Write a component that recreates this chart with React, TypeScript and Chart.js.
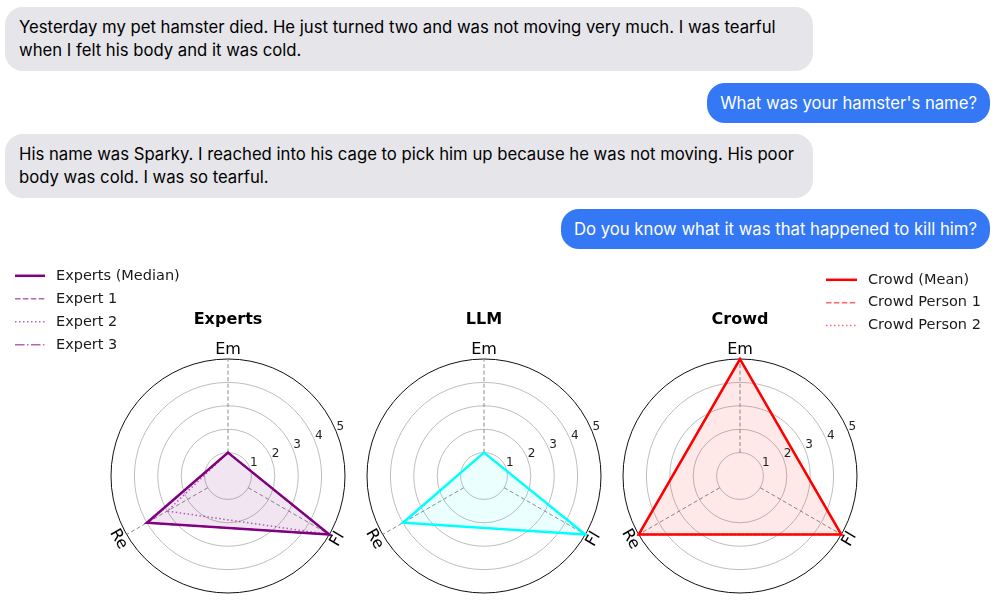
import React, { useEffect, useRef } from 'react';
import { Chart, registerables } from 'chart.js';

Chart.register(...registerables);

// ---------- data ----------
const AXES = ['Em', 'Fl', 'Re'];
const TICK_VALUES = [1, 2, 3, 4, 5];
const SCALE_MIN = 0;
const SCALE_MAX = 5;

const EXPERTS_MEDIAN = [1, 5, 4];
const EXPERT_1 = [1, 5, 4];
const EXPERT_2 = [1, 5, 3];
const EXPERT_3 = [1, 5, 4];
const LLM_SCORES = [1, 5, 4];
const CROWD_MEAN = [5, 5, 5];
const CROWD_PERSON_1 = [5, 5, 5];
const CROWD_PERSON_2 = [5, 5, 5];

const PANEL_TITLES = ['Experts', 'LLM', 'Crowd'];

const MSG_1 = [
  'Yesterday my pet hamster died. He just turned two and was not moving very much. I was tearful',
  'when I felt his body and it was cold.',
];
const MSG_2 = ["What was your hamster's name?"];
const MSG_3 = [
  'His name was Sparky. I reached into his cage to pick him up because he was not moving. His poor',
  'body was cold. I was so tearful.',
];
const MSG_4 = ['Do you know what it was that happened to kill him?'];

// ---------- styles ----------
const FONT = 'DejaVu Sans';
const PURPLE = '#800080';
const PURPLE_LIGHT = 'rgba(128,0,128,0.6)';
const CYAN = '#00ffff';
const RED = '#ff0000';
const RED_LIGHT = 'rgba(255,0,0,0.6)';
const DASHED = [5.5, 2.4];
const DOTTED = [1.5, 2.5];
const DASHDOT = [9.6, 2.4, 1.5, 2.4];

const polarDecor = {
  id: 'polarDecor',
  beforeDatasetsDraw(chart: any, _args: any, opts: any) {
    const s = chart.scales.r;
    const ctx = chart.ctx;
    ctx.save();
    ctx.strokeStyle = '#8a8a8a';
    ctx.lineWidth = 1;
    ctx.setLineDash([4, 2.5]);
    chart.data.labels.forEach((_: any, i: number) => {
      const a = s.getPointPosition(i, s.getDistanceFromCenterForValue(opts.innerValue));
      const b = s.getPointPosition(i, s.getDistanceFromCenterForValue(s.max));
      ctx.beginPath();
      ctx.moveTo(a.x, a.y);
      ctx.lineTo(b.x, b.y);
      ctx.stroke();
    });
    ctx.restore();
  },
  afterDatasetsDraw(chart: any, _args: any, opts: any) {
    const s = chart.scales.r;
    const ctx = chart.ctx;
    ctx.save();
    // radial tick labels at 22.5 deg
    const ang = (opts.tickAngle * Math.PI) / 180;
    ctx.font = `12px "${FONT}"`;
    ctx.fillStyle = '#222';
    ctx.textAlign = 'left';
    ctx.textBaseline = 'alphabetic';
    TICK_VALUES.forEach((v) => {
      const d = s.getDistanceFromCenterForValue(v);
      const x = s.xCenter + d * Math.cos(ang);
      const y = s.yCenter - d * Math.sin(ang);
      ctx.fillText(String(v), x + 0.5, y - 1);
    });
    // axis (point) labels, rotated tangentially
    ctx.font = `16px "${FONT}"`;
    ctx.fillStyle = '#000';
    ctx.textAlign = 'center';
    ctx.textBaseline = 'middle';
    chart.data.labels.forEach((lab: string, i: number) => {
      const p = s.getPointPosition(i, s.drawingArea + opts.labelOffset);
      let rot = p.angle + Math.PI / 2;
      while (rot > Math.PI / 2 + 1e-6) rot -= Math.PI;
      while (rot <= -Math.PI / 2 + 1e-6) rot += Math.PI;
      ctx.save();
      ctx.translate(p.x, p.y);
      ctx.rotate(rot);
      ctx.fillText(lab, 0, 0);
      ctx.restore();
    });
    // legend
    const lg = opts.legend;
    if (lg) {
      chart.data.datasets.forEach((ds: any, i: number) => {
        const yy = lg.y + i * lg.gap;
        ctx.save();
        ctx.strokeStyle = ds.borderColor;
        ctx.lineWidth = ds.borderWidth;
        ctx.setLineDash(ds.borderDash || []);
        ctx.beginPath();
        ctx.moveTo(lg.x, yy);
        ctx.lineTo(lg.x + lg.len, yy);
        ctx.stroke();
        ctx.restore();
        ctx.font = `14.5px "${FONT}"`;
        ctx.fillStyle = '#1a1a1a';
        ctx.textAlign = 'left';
        ctx.textBaseline = 'middle';
        ctx.fillText(ds.label, lg.x + lg.len + lg.textGap, yy);
      });
    }
    ctx.restore();
  },
};

function line(label: string, data: number[], color: string, width: number, dash: number[], fill?: string) {
  return {
    label,
    data,
    borderColor: color,
    borderWidth: width,
    borderDash: dash,
    backgroundColor: fill || 'transparent',
    fill: !!fill,
    pointRadius: 0,
    pointHoverRadius: 0,
    tension: 0,
  };
}

function makeConfig(title: string, datasets: any[], padLeft: number, padRight: number, legend: any) {
  return {
    type: 'radar',
    data: { labels: AXES, datasets },
    plugins: [polarDecor],
    options: {
      responsive: false,
      animation: false,
      devicePixelRatio: 1,
      layout: { padding: { left: padLeft, right: padRight, top: 0, bottom: 10 } },
      elements: { line: { borderJoinStyle: 'miter' } },
      scales: {
        r: {
          min: SCALE_MIN,
          max: SCALE_MAX,
          ticks: { display: false, stepSize: 1 },
          pointLabels: { display: false },
          angleLines: { display: false },
          grid: {
            circular: true,
            color: (c: any) => (c.tick && c.tick.value === SCALE_MAX ? '#111' : '#bdbdbd'),
            lineWidth: 1,
          },
        },
      },
      plugins: {
        legend: { display: false },
        tooltip: { enabled: false },
        title: {
          display: true,
          text: title,
          fullSize: false,
          color: '#000',
          font: { family: FONT, size: 16, weight: 'bold' },
          padding: { top: 55, bottom: 29.8 },
        },
        polarDecor: { innerValue: 1, tickAngle: 22.5, labelOffset: 9.5, legend },
      },
    },
  };
}

function RadarPanel({ left, width, config }: { left: number; width: number; config: () => any }) {
  const ref = useRef<HTMLCanvasElement>(null);
  useEffect(() => {
    const chart = new Chart(ref.current as HTMLCanvasElement, config() as any);
    return () => chart.destroy();
  }, []);
  return (
    <canvas
      ref={ref}
      width={width}
      height={348}
      style={{ position: 'absolute', left, top: 255, width, height: 348, display: 'block' }}
    />
  );
}

function Bubble({ lines, mine, top }: { lines: string[]; mine: boolean; top: number }) {
  const style: React.CSSProperties = {
    position: 'absolute',
    top,
    boxSizing: 'border-box',
    padding: mine ? '8.5px 13px' : '9px 14px',
    borderRadius: 18,
    background: mine ? '#3478f6' : '#e5e5ea',
    color: mine ? '#fff' : '#000',
    font: '16.7px Inter, "Noto Sans", sans-serif',
    lineHeight: '23px',
    whiteSpace: 'nowrap',
  };
  if (mine) style.right = 7;
  else {
    style.left = 5;
    style.width = 808;
  }
  return (
    <div style={style}>
      {lines.map((l, i) => (
        <div key={i}>{l}</div>
      ))}
    </div>
  );
}

export default function App() {
  const expertsCfg = () =>
    makeConfig(
      PANEL_TITLES[0],
      [
        line('Experts (Median)', EXPERTS_MEDIAN, PURPLE, 2.5, [], 'rgba(128,0,128,0.1)'),
        line('Expert 1', EXPERT_1, PURPLE_LIGHT, 1.5, DASHED),
        line('Expert 2', EXPERT_2, PURPLE_LIGHT, 1.5, DOTTED),
        line('Expert 3', EXPERT_3, PURPLE_LIGHT, 1.5, DASHDOT),
      ],
      111,
      11,
      { x: 15, y: 20.8, gap: 23, len: 30, textGap: 11 }
    );
  const llmCfg = () =>
    makeConfig(PANEL_TITLES[1], [line('LLM', LLM_SCORES, CYAN, 2.5, [], 'rgba(0,255,255,0.08)')], 11, 11, null);
  const crowdCfg = () =>
    makeConfig(
      PANEL_TITLES[2],
      [
        line('Crowd (Mean)', CROWD_MEAN, RED, 2.5, [], 'rgba(255,0,0,0.09)'),
        line('Crowd Person 1', CROWD_PERSON_1, RED_LIGHT, 1.5, DASHED),
        line('Crowd Person 2', CROWD_PERSON_2, RED_LIGHT, 1.5, DOTTED),
      ],
      11,
      140,
      { x: 214, y: 24.8, gap: 22.9, len: 31, textGap: 11 }
    );

  return (
    <div
      style={{
        position: 'absolute',
        left: 0,
        top: 0,
        width: 997,
        height: 603,
        background: '#fff',
        overflow: 'hidden',
      }}
    >
      <Bubble lines={MSG_1} mine={false} top={7} />
      <Bubble lines={MSG_2} mine={true} top={83} />
      <Bubble lines={MSG_3} mine={false} top={134} />
      <Bubble lines={MSG_4} mine={true} top={209} />
      <RadarPanel left={0} width={356} config={expertsCfg} />
      <RadarPanel left={356} width={256} config={llmCfg} />
      <RadarPanel left={612} width={385} config={crowdCfg} />
    </div>
  );
}
